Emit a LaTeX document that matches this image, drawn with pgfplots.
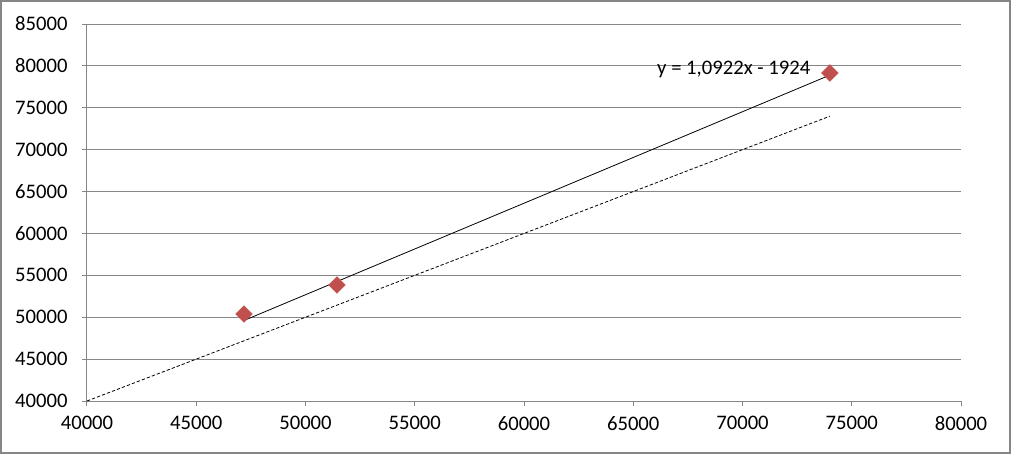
\documentclass[border=0pt]{standalone}
\usepackage{pgfplots}
\pgfplotsset{compat=1.18}
\usepackage{fontspec}
\setmainfont{Carlito}
\definecolor{gridgray}{RGB}{134,134,134}
\definecolor{mred}{RGB}{192,80,77}
\begin{document}
\begin{tikzpicture}[x=0.75pt,y=0.75pt]
\useasboundingbox (-87,-53) rectangle (924,401);
\draw[gridgray, line width=1.2pt] (-86,-52) rectangle (923,400);
\begin{axis}[
  at={(0,0)}, anchor=south west,
  scale only axis,
  width=655.5pt, height=282.75pt,
  xmin=40000, xmax=80000, ymin=40000, ymax=85000,
  xtick={40000,45000,...,80000},
  ytick={40000,45000,...,85000},
  scaled ticks=false,
  axis x line*=bottom, axis y line*=left,
  axis line style={gridgray, line width=0.75pt, -},
  ymajorgrids, grid style={gridgray, line width=0.75pt},
  tick style={gridgray, line width=0.75pt},
  tick align=outside, major tick length=4pt,
  /pgf/number format/assume math mode=true,
  /pgf/number format/fixed,
  /pgf/number format/set thousands separator={},
  ticklabel style={font=\fontsize{15.5}{18}\selectfont, text=black},
  yticklabel style={xshift=-7pt},
  xticklabel style={yshift=-4pt},
  clip=false,
]
\addplot[black, line width=0.6pt, dash pattern=on 2.5pt off 1.5pt] coordinates {(40000,40000) (74000,74000)};
\addplot[black, line width=0.6pt] coordinates {(47185,49610) (74000,78899)};
\addplot[only marks, mark=square*, mark size=4.4pt, mark options={rotate=45, fill=mred, draw=mred}] coordinates {
(47185,50380) (51440,53850) (74000,79150)};
\node[font=\fontsize{15.5}{18}\selectfont, anchor=center] at (axis cs:69600,79600) {y = 1,0922x - 1924};
\end{axis}
\end{tikzpicture}
\end{document}
